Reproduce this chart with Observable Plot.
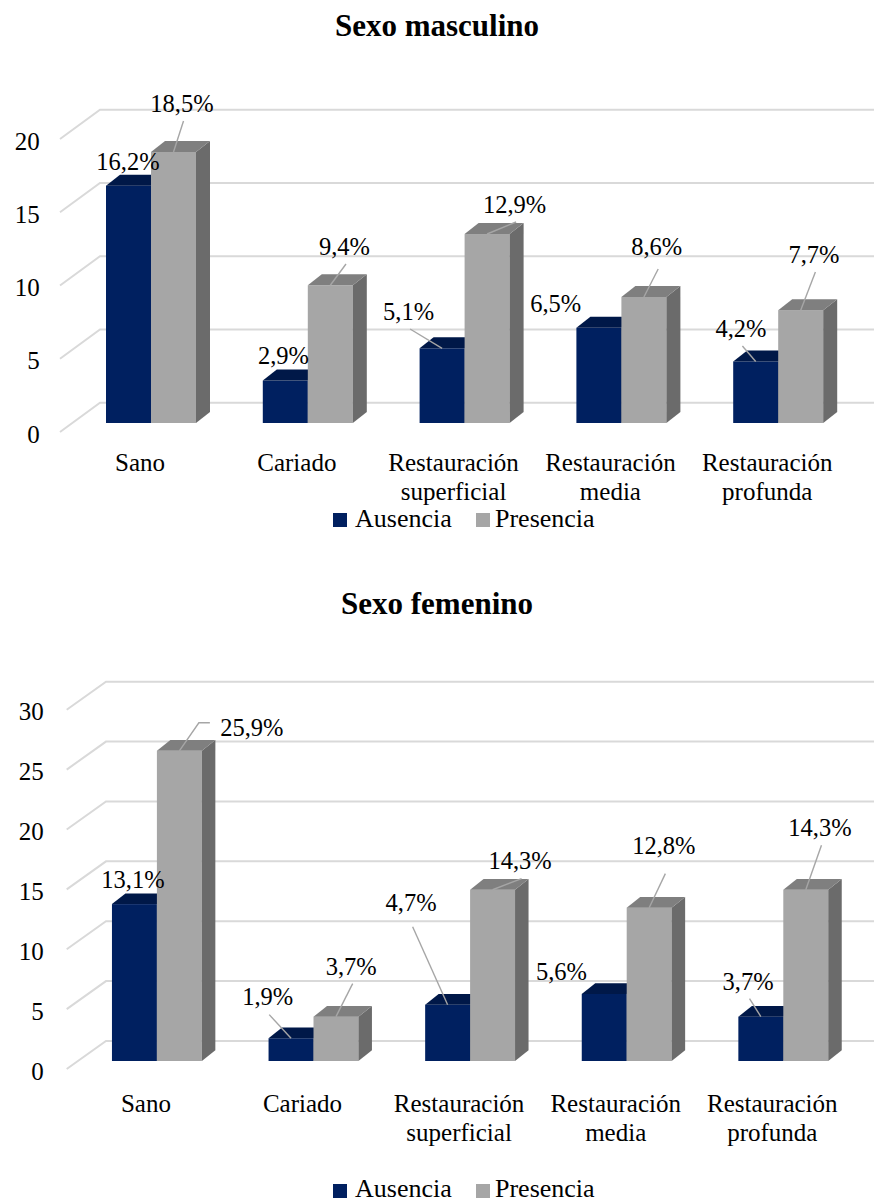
<!DOCTYPE html>
<html lang="es">
<head>
<meta charset="utf-8">
<script src="https://cdn.jsdelivr.net/npm/d3@7"></script>
<script src="https://cdn.jsdelivr.net/npm/@observablehq/plot@0.6"></script>
<style>
html,body{margin:0;padding:0;background:#fff;}
body{position:relative;width:874px;height:1203px;font-family:"Liberation Serif",Tinos,"Times New Roman",Times,"Nimbus Roman","DejaVu Serif",serif;color:#000;overflow:hidden;}
.abs{position:absolute;left:0;width:874px;}
.title{height:55px;line-height:52px;text-align:center;font-weight:bold;font-size:31px;}
.legend{height:30px;font-size:26px;}
.legend .sw{position:absolute;width:14px;height:14px;}
.legend .lb{position:absolute;line-height:26px;white-space:nowrap;}
svg{display:block;}
</style>
</head>
<body>
<div class="abs title" id="t1" style="top:0px"></div>
<div class="abs" id="c1" style="top:60px"></div>
<div class="abs legend" id="l1" style="top:505px"></div>
<div class="abs title" id="t2" style="top:578px"></div>
<div class="abs" id="c2" style="top:633px"></div>
<div class="abs legend" id="l2" style="top:1173px"></div>
<script>
// ---------- data ----------
const categories = ["Sano", "Cariado", "Restauración\nsuperficial", "Restauración\nmedia", "Restauración\nprofunda"];
const seriesNames = ["Ausencia", "Presencia"];
const maleAusencia = [16.2, 2.9, 5.1, 6.5, 4.2];
const malePresencia = [18.5, 9.4, 12.9, 8.6, 7.7];
const femaleAusencia = [13.1, 1.9, 4.7, 5.6, 3.7];
const femalePresencia = [25.9, 3.7, 14.3, 12.8, 14.3];
const maleTicks = [0, 5, 10, 15, 20];
const femaleTicks = [0, 5, 10, 15, 20, 25, 30];

// ---------- label placement (pixel offsets from bar top centre; leader type) ----------
const maleLabelPos = {
  Ausencia: [[-0.5, -23.5, 0], [-1.8, -24.5, 0], [-33.5, -36.3, 1], [-43.2, -23.8, 0], [-14.8, -32.5, 1]],
  Presencia: [[8.5, -48, 1], [14.2, -38.3, 1], [27.5, -29, 1], [12.8, -50, 1, 22], [13.2, -55.2, 1]]
};
const femaleLabelPos = {
  Ausencia: [[-1.5, -24.2, 0], [-23.3, -40.6, 1], [-36.5, -102, 1, 24], [-42.8, -22, 0], [-12.8, -35, 1]],
  Presencia: [[72.5, -23, 2], [15.2, -50, 1], [27.5, -28.1, 1], [14.7, -61.1, 1, 27], [14.2, -61.5, 1]]
};

// ---------- style ----------
const W = 874;
const FONT = '"Liberation Serif",Tinos,"Times New Roman",Times,"Nimbus Roman","DejaVu Serif",serif';
const PAD_IN = 0.426, PAD_OUT = 0.213;
const COLORS = {
  Ausencia: {front: "#002060", top: "#001848", side: "#00153f"},
  Presencia: {front: "#a6a6a6", top: "#7f7f7f", side: "#6b6b6b"}
};
const GRID = "#d9d9d9";
const LEADER = "#a6a6a6";

const fmtPct = v => d3.format(".1f")(v).replace(".", ",") + "%";

function scaleFns(scales) {
  let sx = scales.x, sy = scales.y;
  if (typeof sx !== "function" && scales.scales) { sx = scales.scales.x; sy = scales.scales.y; }
  const X = typeof sx === "function" ? sx : v => sx.apply(v);
  const Y = typeof sy === "function" ? sy : v => sy.apply(v);
  const bw = typeof sx.bandwidth === "function" ? sx.bandwidth() : sx.bandwidth;
  return {X, Y, bw};
}

function wallGrid(ticks, wall) {
  return Plot.ruleY(ticks, {
    y: d => d,
    render(I, scales, values, dims) {
      const {Y} = scaleFns(scales);
      const g = d3.create("svg:g").attr("fill", "none").attr("stroke", GRID).attr("stroke-width", 2);
      for (const i of I) {
        const y = Y(ticks[i]);
        const pts = [[dims.marginLeft + wall.fx, y + wall.fy], [dims.marginLeft + wall.bx, y + wall.by], [dims.width, y + wall.by]];
        g.append("polyline").attr("points", pts.map(p => p.join(",")).join(" "));
      }
      return g.node();
    }
  });
}

function bars3d(rows, name, side, bw, depth) {
  const c = COLORS[name];
  return Plot.barY(rows, {
    x: "cat", y: "value", fill: c.front,
    insetLeft: side ? bw / 2 : 0, insetRight: side ? 0 : bw / 2,
    render(I, scales, values, dims, ctx, next) {
      const g = next(I, scales, values, dims, ctx);
      const {X, Y, bw: b} = scaleFns(scales);
      const [dx, dy] = depth;
      const sel = d3.select(g);
      for (const i of I) {
        const d = rows[i];
        const x0 = X(d.cat) + (side ? b / 2 : 0), w = b / 2;
        const yt = Y(d.value), yb = Y(0);
        sel.append("path").attr("fill", c.side)
          .attr("d", `M${x0 + w},${yt}L${x0 + w + dx},${yt + dy}L${x0 + w + dx},${yb + dy}L${x0 + w},${yb}Z`);
        sel.append("path").attr("fill", c.top)
          .attr("d", `M${x0},${yt}L${x0 + dx},${yt + dy}L${x0 + w + dx},${yt + dy}L${x0 + w},${yt}Z`);
      }
      return g;
    }
  });
}

function dataLabels(rows, side, pos) {
  return Plot.text(rows, {
    x: "cat", y: "value", text: d => fmtPct(d.value),
    render(I, scales) {
      const {X, Y, bw} = scaleFns(scales);
      const g = d3.create("svg:g");
      for (const i of I) {
        const d = rows[i];
        const [ox, oy, type, sdy = 17] = pos[i];
        const xc = X(d.cat) + bw * (side ? 0.75 : 0.25), yt = Y(d.value);
        const lx = xc + ox, ly = yt + oy;
        if (type === 1) {
          g.append("line").attr("x1", lx + 1.5).attr("y1", ly + sdy).attr("x2", xc).attr("y2", yt)
            .attr("stroke", LEADER).attr("stroke-width", 1.4);
        } else if (type === 2) {
          g.append("polyline").attr("fill", "none").attr("stroke", LEADER).attr("stroke-width", 1.4)
            .attr("points", `${lx - 42},${ly - 5} ${lx - 53},${ly - 5} ${xc},${yt}`);
        }
        g.append("text").attr("x", lx).attr("y", ly).attr("dy", "0.32em")
          .attr("text-anchor", "middle").attr("font-size", 24.5).attr("fill", "#000")
          .attr("font-family", FONT).text(fmtPct(d.value));
      }
      return g.node();
    }
  });
}

function makeChart(cfg) {
  const aRows = categories.map((c, i) => ({cat: c, value: cfg.ausencia[i]}));
  const pRows = categories.map((c, i) => ({cat: c, value: cfg.presencia[i]}));
  const catRows = categories.map(c => ({cat: c}));
  const n = categories.length;
  const step = (W - cfg.ml - cfg.mr) / (n - PAD_IN + 2 * PAD_OUT);
  const bw = step * (1 - PAD_IN);
  return Plot.plot({
    width: W, height: cfg.height,
    marginTop: cfg.mt, marginBottom: cfg.mb, marginLeft: cfg.ml, marginRight: cfg.mr,
    style: {fontFamily: FONT, background: "white", overflow: "visible", color: "#000"},
    x: {type: "band", domain: categories, paddingInner: PAD_IN, paddingOuter: PAD_OUT, round: false, axis: null},
    y: {domain: [0, cfg.yMax], axis: null},
    marks: [
      wallGrid(cfg.ticks, cfg.wall),
      Plot.text(cfg.ticks, {y: d => d, text: d => String(d), frameAnchor: "left", textAnchor: "end",
        dx: cfg.tickDx, dy: cfg.tickDy, fontSize: 25, fill: "#000", fontFamily: FONT}),
      bars3d(aRows, "Ausencia", 0, bw, cfg.depth),
      bars3d(pRows, "Presencia", 1, bw, cfg.depth),
      Plot.text(catRows, {x: "cat", y: () => 0, text: d => d.cat, lineAnchor: "top", lineHeight: 1.15,
        dx: -11.5, dy: cfg.catDy, fontSize: 25, fill: "#000", fontFamily: FONT}),
      dataLabels(aRows, 0, cfg.labelPos.Ausencia),
      dataLabels(pRows, 1, cfg.labelPos.Presencia)
    ]
  });
}

function legend(el, swTop, lbTop) {
  const items = [{name: seriesNames[0], sw: 333, lb: 355}, {name: seriesNames[1], sw: 476, lb: 495}];
  for (const it of items) {
    const s = document.createElement("span");
    s.className = "sw";
    s.style.left = it.sw + "px"; s.style.top = swTop + "px";
    s.style.background = COLORS[it.name].front;
    el.appendChild(s);
    const t = document.createElement("span");
    t.className = "lb";
    t.style.left = it.lb + "px"; t.style.top = lbTop + "px";
    t.textContent = it.name;
    el.appendChild(t);
  }
}

document.getElementById("t1").textContent = "Sexo masculino";
document.getElementById("t2").textContent = "Sexo femenino";

document.getElementById("c1").appendChild(makeChart({
  ausencia: maleAusencia, presencia: malePresencia, ticks: maleTicks, yMax: 20,
  height: 445, mt: 70, mb: 82, ml: 72.6, mr: 17.4,
  wall: {fx: -12.6, fy: 9, bx: 27.4, by: -20.3},
  depth: [14, -11], tickDx: -33.3, tickDy: 11, catDy: 27,
  labelPos: maleLabelPos
}));

document.getElementById("c2").appendChild(makeChart({
  ausencia: femaleAusencia, presencia: femalePresencia, ticks: femaleTicks, yMax: 30,
  height: 540, mt: 68.7, mb: 112, ml: 78.6, mr: 12.4,
  wall: {fx: -11.9, fy: 8, bx: 27.4, by: -20},
  depth: [13.5, -10.7], tickDx: -35.3, tickDy: 10, catDy: 30,
  labelPos: femaleLabelPos
}));

legend(document.getElementById("l1"), 8, 1);
legend(document.getElementById("l2"), 11, 3);
</script>
</body>
</html>
